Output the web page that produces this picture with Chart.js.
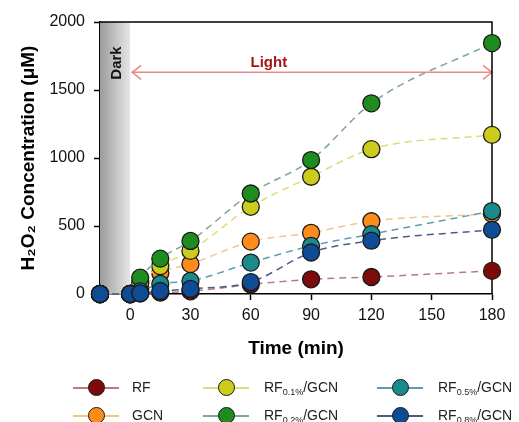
<!DOCTYPE html>
<html lang="en">
<head>
    <meta charset="UTF-8">
    <title>H2O2 Concentration</title>
    <script src="https://cdn.jsdelivr.net/npm/chart.js"></script>
    <style>
        body {
            margin: 0;
            padding: 0;
            background: #ffffff;
            font-family: 'Liberation Sans', Arial, sans-serif;
        }
        .wrap {
            position: relative;
            width: 519px;
            height: 422px;
        }
        canvas {
            position: absolute;
            left: 0;
            top: 0;
        }
        .legend-item {
            position: absolute;
            height: 20px;
            font-size: 14px;
            color: #222;
        }
        .legend-line {
            position: absolute;
            top: 9px;
            width: 46px;
            height: 2px;
        }
        .legend-dot {
            position: absolute;
            top: 1px;
            width: 15px;
            height: 15px;
            border-radius: 50%;
            border: 1.3px solid #1a1a1a;
        }
        .legend-text {
            position: absolute;
            top: 0;
            white-space: nowrap;
            line-height: 18px;
        }
        .legend-text sub {
            font-size: 9px;
            vertical-align: -3px;
        }
    </style>
</head>
<body>
    <div class="wrap" id="wrap">
        <canvas id="chart" width="519" height="422"></canvas>
    </div>

    <script>
        // data
        const times = [-15, 0, 5, 15, 30, 60, 90, 120, 180];
        const xTicks = [0, 30, 60, 90, 120, 150, 180];

        const rf      = [0, 0, 5, 10, 20, 70, 108, 125, 170];
        const gcn     = [0, 0, 40, 155, 220, 385, 450, 535, 590];
        const rf01    = [0, 0, 80, 205, 317, 641, 862, 1065, 1170];
        const rf02    = [0, 0, 120, 260, 390, 739, 985, 1402, 1845];
        const rf05    = [0, 0, 20, 74, 96, 231, 354, 440, 610];
        const rf08    = [0, 0, 5, 22, 37, 88, 305, 392, 472];

        const seriesNames = ['RF', 'GCN', 'RF', 'RF', 'RF', 'RF'];
        const seriesSubs  = ['', '', '0.1%', '0.2%', '0.5%', '0.8%'];
        const seriesTails = ['', '', '/GCN', '/GCN', '/GCN', '/GCN'];
        const seriesValues = [rf, gcn, rf01, rf02, rf05, rf08];
        const markerColors = ['#7d0b0b', '#ff8c1a', '#cccc1c', '#1f8c1f', '#1b8a8c', '#0f4c96'];
        const lineColors   = ['#b87a88', '#f2c58a', '#dcdc78', '#78a896', '#5e9cb2', '#4c5c84'];

        // dark / light annotation
        const darkFrom = -15, darkTo = 0;
        const lightY = 1630;

        const datasets = seriesValues.map(function (vals, i) {
            return {
                label: seriesNames[i] + seriesSubs[i] + seriesTails[i],
                data: times.map(function (t, j) { return { x: t, y: vals[j] }; }),
                borderColor: lineColors[i],
                borderWidth: 1.5,
                borderDash: [7, 5],
                cubicInterpolationMode: 'monotone',
                pointRadius: 8.5,
                pointBackgroundColor: markerColors[i],
                pointBorderColor: '#1a1a1a',
                pointBorderWidth: 1.3,
                clip: false
            };
        }).reverse(); // last series drawn on top

        const decorPlugin = {
            id: 'decor',
            beforeDatasetsDraw(chart) {
                const ctx = chart.ctx;
                const a = chart.chartArea;
                const xs = chart.scales.x, ys = chart.scales.y;
                const x0 = xs.getPixelForValue(darkFrom), x1 = xs.getPixelForValue(darkTo);
                ctx.save();
                // dark band
                const g = ctx.createLinearGradient(x0, 0, x1, 0);
                g.addColorStop(0, '#9c9c9c');
                g.addColorStop(1, '#e6e6e6');
                ctx.fillStyle = g;
                ctx.fillRect(x0, a.top, x1 - x0, a.bottom - a.top);

                ctx.fillStyle = '#111';
                ctx.font = 'bold 15px "Liberation Sans", Arial, sans-serif';
                ctx.translate((x0 + x1) / 2 + 2, a.top + 41);
                ctx.rotate(-Math.PI / 2);
                ctx.textAlign = 'center';
                ctx.textBaseline = 'middle';
                ctx.fillText('Dark', 0, 0);
                ctx.restore();

                // light arrow
                ctx.save();
                const ay = ys.getPixelForValue(lightY);
                const ax0 = x1 + 2, ax1 = xs.getPixelForValue(180);
                ctx.strokeStyle = '#ec8a8a';
                ctx.lineWidth = 1.6;
                ctx.beginPath();
                ctx.moveTo(ax0, ay); ctx.lineTo(ax1, ay);
                ctx.moveTo(ax0 + 9, ay - 7); ctx.lineTo(ax0, ay); ctx.lineTo(ax0 + 9, ay + 7);
                ctx.moveTo(ax1 - 9, ay - 7); ctx.lineTo(ax1, ay); ctx.lineTo(ax1 - 9, ay + 7);
                ctx.stroke();
                ctx.fillStyle = '#a3161a';
                ctx.font = 'bold 15px "Liberation Sans", Arial, sans-serif';
                ctx.textAlign = 'center';
                ctx.textBaseline = 'bottom';
                ctx.fillText('Light', xs.getPixelForValue(69), ay - 2);

                // box frame (top and right)
                ctx.strokeStyle = '#000';
                ctx.lineWidth = 1.5;
                ctx.beginPath();
                ctx.moveTo(a.left, a.top);
                ctx.lineTo(a.right, a.top);
                ctx.lineTo(a.right, a.bottom);
                ctx.stroke();
                ctx.restore();
            }
        };

        const tickFont = { size: 16, family: "'Liberation Sans', Arial, sans-serif" };
        const titleFont = { size: 19, weight: 'bold', family: "'Liberation Sans', Arial, sans-serif" };

        new Chart(document.getElementById('chart').getContext('2d'), {
            type: 'line',
            data: { datasets: datasets },
            options: {
                responsive: false,
                animation: false,
                layout: { padding: { top: 22, right: 27, bottom: 62, left: 0 } },
                plugins: {
                    legend: { display: false },
                    tooltip: { enabled: false }
                },
                scales: {
                    x: {
                        type: 'linear',
                        min: darkFrom,
                        max: 180,
                        afterBuildTicks(scale) {
                            scale.ticks = xTicks.map(function (v) { return { value: v }; });
                        },
                        afterFit(scale) { scale.height = 66; },
                        ticks: { color: '#111', font: tickFont, padding: 6, maxRotation: 0 },
                        grid: { drawOnChartArea: false, tickLength: 6, tickColor: '#000', tickWidth: 1.5 },
                        border: { display: true, color: '#000', width: 1.5 },
                        title: {
                            display: true,
                            text: 'Time (min)',
                            color: '#000',
                            font: titleFont,
                            padding: { top: 0, bottom: 0 }
                        }
                    },
                    y: {
                        min: 0,
                        max: 2000,
                        afterFit(scale) { scale.width = 100; },
                        ticks: {
                            stepSize: 500,
                            color: '#111',
                            font: tickFont,
                            padding: 9,
                            callback: function (v) { return String(v); }
                        },
                        grid: { drawOnChartArea: false, tickLength: 6, tickColor: '#000', tickWidth: 1.5 },
                        border: { display: true, color: '#000', width: 1.5 },
                        title: {
                            display: true,
                            text: 'H₂O₂ Concentration (μM)',
                            color: '#000',
                            font: titleFont,
                            padding: { top: 17, bottom: 0 }
                        }
                    }
                }
            },
            plugins: [decorPlugin]
        });

        // legend in three columns, with subscripts
        const legendCols = [73, 203, 377];
        const legendRows = [378, 406];
        const legendOrder = [[0, 0], [1, 0], [0, 1], [1, 1], [0, 2], [1, 2]]; // [row, col] per series
        const wrap = document.getElementById('wrap');
        seriesNames.forEach(function (name, i) {
            const pos = legendOrder[i];
            const item = document.createElement('div');
            item.className = 'legend-item';
            item.style.left = legendCols[pos[1]] + 'px';
            item.style.top = legendRows[pos[0]] + 'px';

            const line = document.createElement('div');
            line.className = 'legend-line';
            line.style.left = '0px';
            line.style.background = lineColors[i];
            item.appendChild(line);

            const dot = document.createElement('div');
            dot.className = 'legend-dot';
            dot.style.left = '15px';
            dot.style.background = markerColors[i];
            item.appendChild(dot);

            const txt = document.createElement('div');
            txt.className = 'legend-text';
            txt.style.left = (i < 2 ? 59 : 61) + 'px';
            txt.appendChild(document.createTextNode(name));
            if (seriesSubs[i]) {
                const s = document.createElement('sub');
                s.textContent = seriesSubs[i];
                txt.appendChild(s);
            }
            if (seriesTails[i]) txt.appendChild(document.createTextNode(seriesTails[i]));
            item.appendChild(txt);
            wrap.appendChild(item);
        });
    </script>
</body>
</html>
